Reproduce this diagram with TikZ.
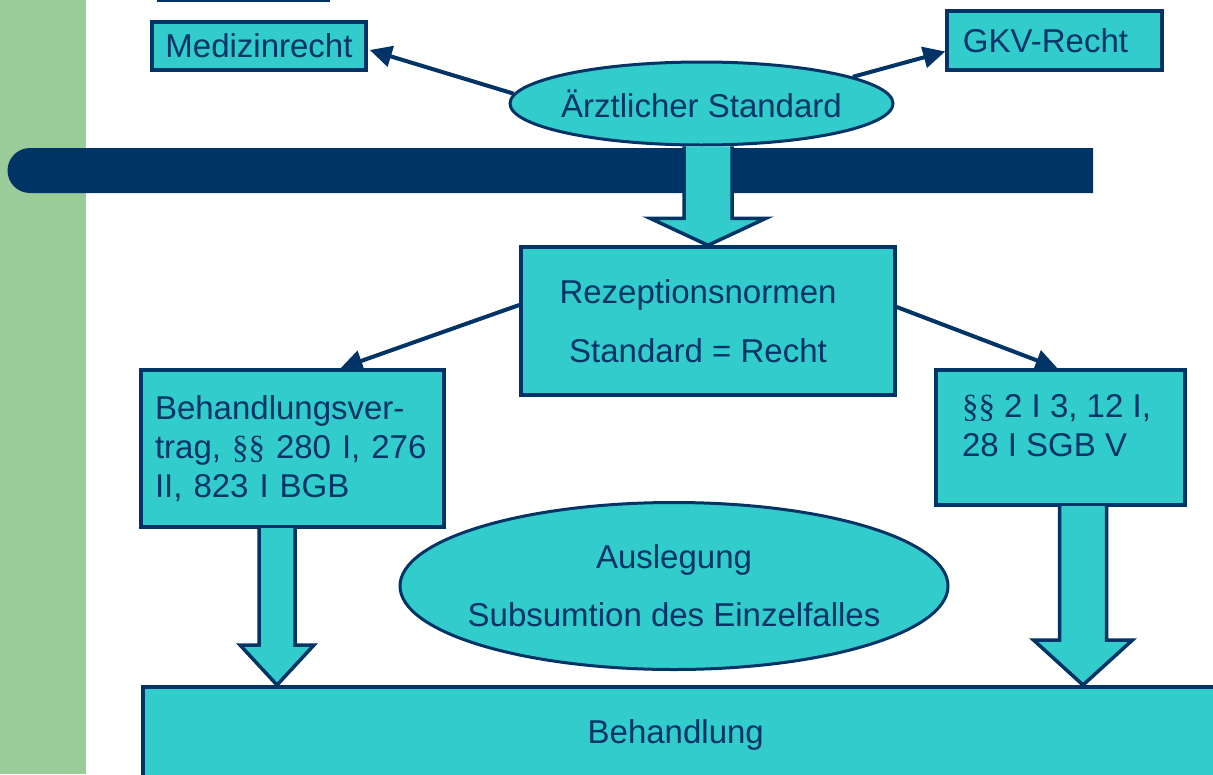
\documentclass[tikz,border=0pt]{standalone}
\usepackage{fontspec}
\setmainfont{Liberation Sans}
\newfontfamily\parafont{Liberation Serif}
\usetikzlibrary{arrows.meta,calc,shapes.geometric}
\definecolor{navy}{RGB}{0,51,102}
\definecolor{cyanfill}{RGB}{51,204,204}
\definecolor{stripgreen}{RGB}{153,204,153}
\newcommand{\para}{{\parafont\S}}
\tikzset{
  txt/.style={font=\fontsize{33}{39}\selectfont, text=navy},
  box/.style={txt, draw=navy, fill=cyanfill, line width=3.5pt, rectangle, inner sep=0pt},
  oval/.style={draw=navy, fill=cyanfill, line width=3pt, ellipse, inner sep=0pt},
  thinarrow/.style={draw=navy, line width=4pt, -{Triangle[length=22pt,width=21pt]}},
  blockarrow/.style={draw=navy, fill=cyanfill, line width=3.5pt, line join=miter},
}
\begin{document}
\begin{tikzpicture}[x=1pt,y=-1pt]
\useasboundingbox (0,0) rectangle (1213,774);
\clip (0,0) rectangle (1213,774);
\fill[white] (0,0) rectangle (1213,774);
\fill[stripgreen] (0,0) rectangle (86,774);
\draw[navy, line width=2.5pt] (157,0.5) -- (330,0.5);
% dark bar
\fill[navy] (30,193) -- (1093,193) -- (1093,148) -- (30,148) arc[start angle=270, end angle=90, radius=22.5] -- cycle;
% nodes
\node[oval, minimum width=383, minimum height=83] (ell1) at (701.5,103.5) {};
\node[txt] (ell1t) at (ell1.center) {Ärztlicher Standard};
\node[box, minimum width=214, minimum height=48] (med) at (259,46) {Medizinrecht};
\node[box, minimum width=215, minimum height=59] (gkv) at (1054.5,40.5) {\hspace*{-18pt}GKV-Recht};
\node[box, minimum width=374, minimum height=148, align=center] (rez) at (708,321)
  {\hspace*{-20pt}Rezeptionsnormen\\[20pt]\hspace*{-20pt}Standard = Recht};
\node[box, minimum width=303, minimum height=157, text width=275, inner xsep=14pt, align=left] (bv) at (292.5,448.5)
  {Behandlungsver-\\trag, \para\para\ 280 I, 276\\II, 823 I BGB};
\node[box, minimum width=249, minimum height=135, align=left] (sgb) at (1060.5,437.5)
  {\hspace*{-8pt}\para\para\ 2 I 3, 12 I,\\\hspace*{-8pt}28 I SGB V\\[-14pt]};
\node[oval, minimum width=548, minimum height=167] (ell2) at (674,586) {};
\node[txt, align=center] (ell2t) at (ell2.center) {Auslegung\\[19pt]Subsumtion des Einzelfalles};
\node[box, minimum width=1120, minimum height=96, anchor=north west] (beh) at (141,685) {\hspace*{-54pt}Behandlung};
% thin arrows
\draw[thinarrow] (ell1.177) -- ($(med.east)+(2,4)$);
\draw[thinarrow] (ell1.10) -- ($(gkv.west)+(0,11)$);
\draw[thinarrow] ($(rez.west)+(0,-16)$) -- ($(bv.north)+(48,0)$);
\draw[thinarrow] ($(rez.east)+(0,-14)$) -- ($(sgb.north)+(-3,0)$);
% block arrows
\draw[blockarrow] ($(rez.north)+(-24,-99)$) -- ($(rez.north)+(-24,-27)$) -- ($(rez.north)+(-58,-27)$) -- (rez.north)
  -- ($(rez.north)+(58,-27)$) -- ($(rez.north)+(24,-27)$) -- ($(rez.north)+(24,-99)$);
\coordinate (tipL) at ($(beh.north west)+(136,0)$);
\draw[blockarrow] ($(tipL)+(-18,-157)$) -- ($(tipL)+(-18,-40)$) -- ($(tipL)+(-37,-40)$) -- (tipL)
  -- ($(tipL)+(37,-40)$) -- ($(tipL)+(18,-40)$) -- ($(tipL)+(18,-157)$);
\coordinate (tipR) at ($(beh.north west)+(942,0)$);
\draw[blockarrow] ($(tipR)+(-23.5,-179)$) -- ($(tipR)+(-23.5,-45)$) -- ($(tipR)+(-49.5,-45)$) -- (tipR)
  -- ($(tipR)+(49.5,-45)$) -- ($(tipR)+(23.5,-45)$) -- ($(tipR)+(23.5,-179)$);
\end{tikzpicture}
\end{document}
